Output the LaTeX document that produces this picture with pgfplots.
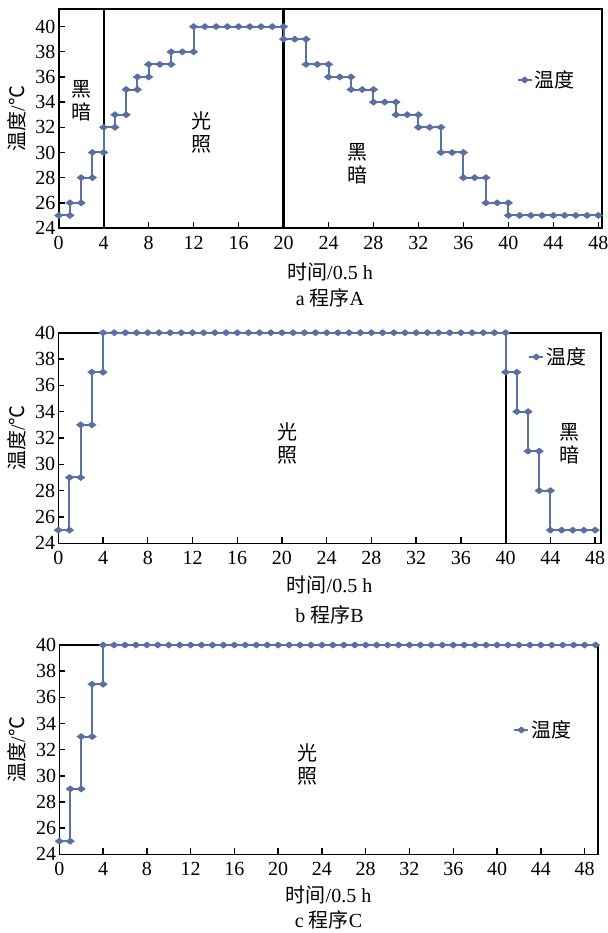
\documentclass[border=0pt]{standalone}
\usepackage{fontspec}
\setmainfont{Liberation Serif}
\newfontfamily\cjk{Noto Sans CJK SC}
\usepackage{pgfplots}
\pgfplotsset{compat=1.18}
\definecolor{tblue}{RGB}{90,112,163}

\pgfplotsset{
  panel/.style={
    scale only axis,
    clip=false,
    xmin=0,
    ymin=24,
    xtick={0,4,...,48},
    ytick={24,26,...,40},
    tick align=inside,
    xtick pos=bottom,
    ytick pos=left,
    major tick length=6pt,
    tick style={line width=1.4pt, black},
    axis line style={line width=1.6pt},
    /pgf/number format/assume math mode=true,
    tick label style={font=\fontsize{20}{24}\selectfont},
    yticklabel style={inner sep=0pt, xshift=-3pt},
    xticklabel style={inner sep=0pt, yshift=-8pt},
    legend style={draw=none, fill=none, font=\fontsize{20}{24}\selectfont\cjk, anchor=west, inner sep=0pt},
    legend image code/.code={\draw[##1, mark repeat=2, mark phase=2] plot coordinates {(0pt,0pt) (7pt,0pt) (14pt,0pt)};},
  },
  temp/.style={tblue, line width=2pt, mark=diamond*,
    mark options={rotate=90, fill=tblue, solid}, mark size=3pt},
  divider/.style={black, line width=2.2pt, forget plot, no marks},
}
\tikzset{zone/.style={font=\fontsize{20}{23}\selectfont\cjk, align=center, inner sep=0pt}}

\begin{document}
\begin{tikzpicture}
\useasboundingbox (0,0) rectangle (607pt,-933pt);

% ---- a 程序A
\begin{axis}[panel, at={(58.7pt,-228pt)}, anchor=south west,
  width=543pt, height=219pt, xmax=48.3, ymax=41.4,
  legend style={at={(rel axis cs:0.843,0.676)}}]
\addplot[divider] coordinates {(4,24) (4,41.4)};
\addplot[divider] coordinates {(20,24) (20,41.4)};
\addplot[temp] coordinates {
  (0,25)(1,25)(1,26)(2,26)(2,28)(3,28)(3,30)(4,30)(4,32)(5,32)(5,33)(6,33)
  (6,35)(7,35)(7,36)(8,36)(8,37)(9,37)(10,37)(10,38)(11,38)(12,38)(12,40)
  (13,40)(14,40)(15,40)(16,40)(17,40)(18,40)(19,40)(20,40)(20,39)(21,39)
  (22,39)(22,37)(23,37)(24,37)(24,36)(25,36)(26,36)(26,35)(27,35)(28,35)
  (28,34)(29,34)(30,34)(30,33)(31,33)(32,33)(32,32)(33,32)(34,32)(34,30)
  (35,30)(36,30)(36,28)(37,28)(38,28)(38,26)(39,26)(40,26)(40,25)(41,25)
  (42,25)(43,25)(44,25)(45,25)(46,25)(47,25)(48,25)};
\addlegendentry{温度}
\node[zone] at (axis cs:2.05,34.1) {黑\\暗};
\node[zone] at (axis cs:12.7,31.6) {光\\照};
\node[zone] at (axis cs:26.6,29.1) {黑\\暗};
\end{axis}

% ---- b 程序B
\begin{axis}[panel, at={(58.3pt,-543.3pt)}, anchor=south west,
  width=542.4pt, height=210.6pt, xmax=48.5, ymax=40,
  legend style={at={(rel axis cs:0.866,0.885)}}]
\addplot[divider] coordinates {(40,24) (40,40)};
\addplot[temp] coordinates {
  (0,25)(1,25)(1,29)(2,29)(2,33)(3,33)(3,37)(4,37)(4,40)(5,40)(6,40)(7,40)
  (8,40)(9,40)(10,40)(11,40)(12,40)(13,40)(14,40)(15,40)(16,40)(17,40)(18,40)
  (19,40)(20,40)(21,40)(22,40)(23,40)(24,40)(25,40)(26,40)(27,40)(28,40)
  (29,40)(30,40)(31,40)(32,40)(33,40)(34,40)(35,40)(36,40)(37,40)(38,40)
  (39,40)(40,40)(40,37)(41,37)(41,34)(42,34)(42,31)(43,31)(43,28)(44,28)
  (44,25)(45,25)(46,25)(47,25)(48,25)};
\addlegendentry{温度}
\node[zone] at (axis cs:20.5,31.6) {光\\照};
\node[zone] at (axis cs:45.7,31.6) {黑\\暗};
\end{axis}

% ---- c 程序C
\begin{axis}[panel, at={(59.3pt,-854.3pt)}, anchor=south west,
  width=538.4pt, height=209.3pt, xmax=49.2, ymax=40,
  legend style={at={(rel axis cs:0.843,0.594)}}]
\addplot[temp] coordinates {
  (0,25)(1,25)(1,29)(2,29)(2,33)(3,33)(3,37)(4,37)(4,40)(5,40)(6,40)(7,40)
  (8,40)(9,40)(10,40)(11,40)(12,40)(13,40)(14,40)(15,40)(16,40)(17,40)(18,40)
  (19,40)(20,40)(21,40)(22,40)(23,40)(24,40)(25,40)(26,40)(27,40)(28,40)
  (29,40)(30,40)(31,40)(32,40)(33,40)(34,40)(35,40)(36,40)(37,40)(38,40)
  (39,40)(40,40)(41,40)(42,40)(43,40)(44,40)(45,40)(46,40)(47,40)(48,40)
  (49,40)};
\addlegendentry{温度}
\node[zone] at (axis cs:22.7,30.9) {光\\照};
\end{axis}

% axis titles and panel captions
\begin{scope}[every node/.style={font=\fontsize{20}{24}\selectfont, inner sep=0pt}]
\node[rotate=90] at (17pt,-118.5pt) {{\cjk 温度}/{\cjk ℃}};
\node[rotate=90] at (17pt,-438pt) {{\cjk 温度}/{\cjk ℃}};
\node[rotate=90] at (17pt,-749.7pt) {{\cjk 温度}/{\cjk ℃}};
\node at (330pt,-272pt) {{\cjk 时间}/0.5 h};
\node at (330pt,-298pt) {a {\cjk 程序}A};
\node at (329.5pt,-585pt) {{\cjk 时间}/0.5 h};
\node at (329.5pt,-615pt) {b {\cjk 程序}B};
\node at (328.5pt,-895pt) {{\cjk 时间}/0.5 h};
\node at (328.5pt,-920pt) {c {\cjk 程序}C};
\end{scope}
\end{tikzpicture}
\end{document}
